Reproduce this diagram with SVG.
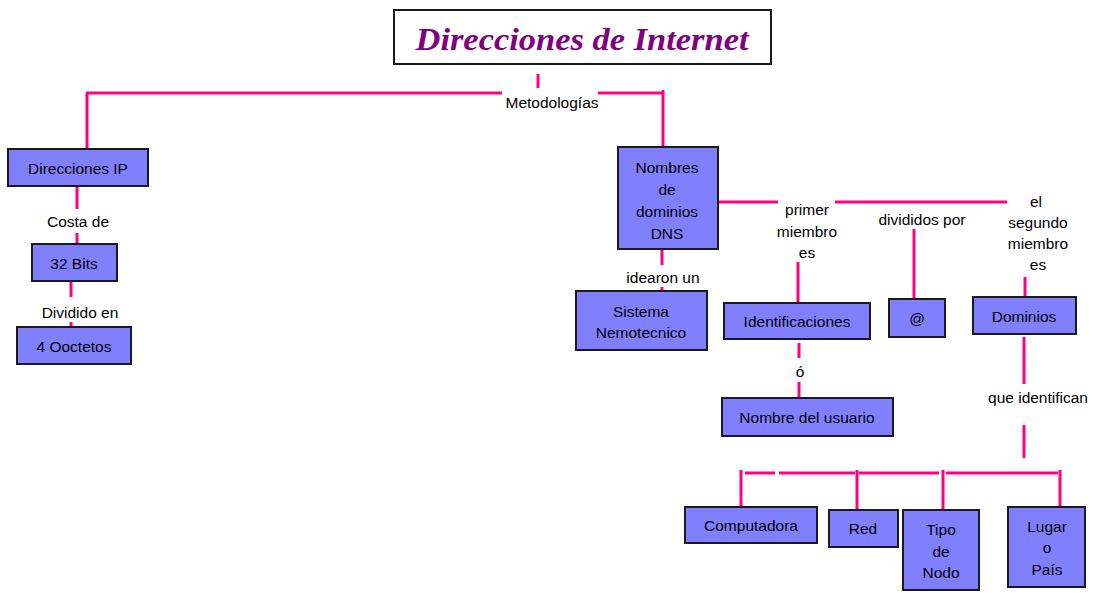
<svg xmlns="http://www.w3.org/2000/svg" width="1093" height="593" viewBox="0 0 1093 593">
<style>
.box{fill:#8080ff;stroke:#1a1a1a;stroke-width:2}
.t{font-family:"Liberation Sans",Arial,sans-serif;font-size:15.5px;fill:#000;text-anchor:middle}
.c{stroke:#ff0080;stroke-width:3;fill:none}
</style>
<rect width="1093" height="593" fill="#fff"/>
<g id="title">
<rect x="394" y="10" width="377" height="54" fill="#fff" stroke="#1a1a1a" stroke-width="2"/>
<text x="582" y="50" font-family="'Liberation Serif','Times New Roman',serif" font-size="32" font-weight="bold" font-style="italic" fill="#800080" text-anchor="middle" textLength="333" lengthAdjust="spacingAndGlyphs">Direcciones de Internet</text>
</g>
<g id="connectors">
<path class="c" d="M538 74V88 M86 93H502 M598 93H663 M87 93V149 M663 90V147"/>
<path class="c" d="M77 186V209 M77 233V244 M71 281V297 M71 322V327"/>
<path class="c" d="M662 249V265 M662 287V291"/>
<path class="c" d="M718 202H778 M835 202H1007"/>
<path class="c" d="M798 262V303 M914 229V299 M1025 277V297"/>
<path class="c" d="M799 343V358 M799 382V398"/>
<path class="c" d="M1024 337V384 M1024 425V458"/>
<path class="c" d="M741 470V507 M745 473H775 M779 473H855 M857 470V510 M859 473H939 M943 470V510 M946 473H1058 M1060 470V507"/>
<text class="t" x="552" y="108">Metodologías</text>
<text class="t" x="78" y="227">Costa de</text>
<text class="t" x="80" y="318">Dividido en</text>
<text class="t" x="663" y="283">idearon un</text>
<text class="t" x="807" y="215">primer</text>
<text class="t" x="807" y="237">miembro</text>
<text class="t" x="807" y="258">es</text>
<text class="t" x="922" y="225">divididos por</text>
<text class="t" x="1036" y="207">el</text>
<text class="t" x="1038" y="228">segundo</text>
<text class="t" x="1038" y="249">miembro</text>
<text class="t" x="1038" y="270">es</text>
<text class="t" x="800" y="377">ó</text>
<text class="t" x="1038" y="403">que identifican</text>
</g>
<g id="n-ip"><rect class="box" x="8" y="149" width="140" height="37"/><text class="t" x="78" y="174">Direcciones IP</text></g>
<g id="n-32bits"><rect class="box" x="32" y="244" width="85" height="37"/><text class="t" x="74" y="269">32 Bits</text></g>
<g id="n-octetos"><rect class="box" x="17" y="327" width="114" height="37"/><text class="t" x="74" y="352">4 Ooctetos</text></g>
<g id="n-dns"><rect class="box" x="618" y="147" width="100" height="102"/><text class="t" x="667" y="173">Nombres</text><text class="t" x="667" y="195">de</text><text class="t" x="667" y="217">dominios</text><text class="t" x="667" y="239">DNS</text></g>
<g id="n-sistema"><rect class="box" x="576" y="291" width="131" height="59"/><text class="t" x="641" y="317">Sistema</text><text class="t" x="641" y="338">Nemotecnico</text></g>
<g id="n-ident"><rect class="box" x="724" y="303" width="146" height="36"/><text class="t" x="797" y="327">Identificaciones</text></g>
<g id="n-arroba"><rect class="box" x="889" y="299" width="56" height="38"/><text class="t" x="917" y="324">@</text></g>
<g id="n-dominios"><rect class="box" x="973" y="297" width="103" height="37"/><text class="t" x="1024" y="322">Dominios</text></g>
<g id="n-usuario"><rect class="box" x="722" y="398" width="171" height="38"/><text class="t" x="807" y="423">Nombre del usuario</text></g>
<g id="n-comp"><rect class="box" x="685" y="507" width="132" height="36"/><text class="t" x="751" y="531">Computadora</text></g>
<g id="n-red"><rect class="box" x="829" y="510" width="69" height="37"/><text class="t" x="863" y="534">Red</text></g>
<g id="n-tipo"><rect class="box" x="903" y="510" width="76" height="80"/><text class="t" x="941" y="535">Tipo</text><text class="t" x="941" y="557">de</text><text class="t" x="941" y="578">Nodo</text></g>
<g id="n-lugar"><rect class="box" x="1008" y="507" width="77" height="80"/><text class="t" x="1047" y="532">Lugar</text><text class="t" x="1047" y="553">o</text><text class="t" x="1047" y="575">País</text></g>
</svg>
